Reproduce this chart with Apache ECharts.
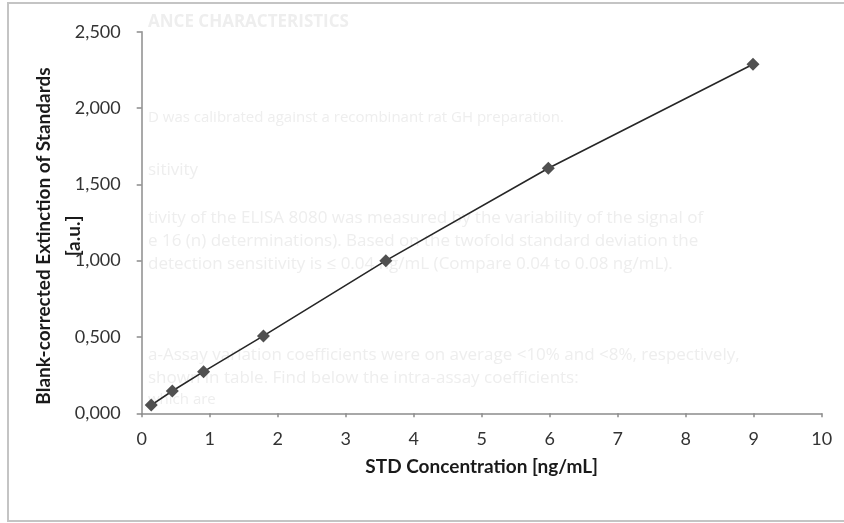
<!DOCTYPE html>
<html>
<head>
<meta charset="utf-8">
<script src="https://cdn.jsdelivr.net/npm/echarts@6/dist/echarts.min.js"></script>
<style>
html,body{margin:0;padding:0;background:#fff;}
#c{width:844px;height:523px;}
</style>
</head>
<body>
<div id="c"></div>
<script>
var concentrations = [0.14, 0.45, 0.91, 1.79, 3.59, 5.98, 8.99];
var extinctions = [0.054, 0.146, 0.273, 0.507, 1.0, 1.605, 2.287];
var xTicks = [0, 1, 2, 3, 4, 5, 6, 7, 8, 9, 10];
var yTicks = ['0,000', '0,500', '1,000', '1,500', '2,000', '2,500'];
var xTitle = 'STD Concentration [ng/mL]';
var yTitle = 'Blank-corrected Extinction of Standards';
var yUnit = '[a.u.]';
var bgLines = [
  'ANCE CHARACTERISTICS',
  'D was calibrated against a recombinant rat GH preparation.',
  'sitivity',
  'tivity of the ELISA 8080 was measured by the variability of the signal of',
  'e 16 (n) determinations). Based on the twofold standard deviation the',
  'detection sensitivity is \u2264 0.04 ng/mL (Compare 0.04 to 0.08 ng/mL).',
  'a-Assay variation coefficients were on average <10% and <8%, respectively,',
  'shown in table. Find below the intra-assay coefficients:',
  'which are'
];
var bgY = [22, 118, 170, 218, 241, 264, 355, 378, 400];
var bgSize = [17, 15, 17, 17, 17, 17, 17, 17, 15];

var chart = echarts.init(document.getElementById('c'), null, {renderer: 'canvas'});
var data = concentrations.map(function (x, i) { return [x, extinctions[i]]; });
var graphics = [];
bgLines.forEach(function (t, i) {
  graphics.push({
    type: 'text', x: 148, y: bgY[i], z: -10, silent: true,
    style: {text: t, fill: '#eeeeee', font: (i === 0 ? 'bold ' : '') + bgSize[i] + 'px "Open Sans"', verticalAlign: 'middle'}
  });
});
graphics.push({
  type: 'rect', z: -5, silent: true,
  shape: {x: 8, y: 3, width: 850, height: 518},
  style: {fill: 'none', stroke: '#c4c4c4', lineWidth: 2}
});
graphics.push({
  type: 'text', x: 44, y: 236, rotation: Math.PI / 2, silent: true,
  style: {text: yTitle, fill: '#1a1a1a', font: 'bold 19px Lato', align: 'center', verticalAlign: 'middle'}
});
graphics.push({
  type: 'text', x: 74, y: 236, rotation: Math.PI / 2, silent: true,
  style: {text: yUnit, fill: '#1a1a1a', font: 'bold 19px Lato', align: 'center', verticalAlign: 'middle'}
});

chart.setOption({
  animation: false,
  backgroundColor: '#fff',
  graphic: graphics,
  grid: {left: 141.7, right: 22.3, top: 31.7, bottom: 109.7, containLabel: false},
  xAxis: {
    type: 'value', min: 0, max: 10, interval: 1,
    name: xTitle, nameLocation: 'middle', nameGap: 44,
    nameTextStyle: {fontFamily: 'Lato', fontWeight: 'bold', fontSize: 19, color: '#1a1a1a'},
    axisLine: {show: true, lineStyle: {color: '#8c8c8c', width: 1.5}},
    axisTick: {show: true, inside: false, length: 4, lineStyle: {color: '#8c8c8c', width: 1.5}},
    axisLabel: {margin: 17, fontFamily: 'Lato', fontSize: 18, color: '#333333',
      formatter: function (v) { return xTicks.indexOf(v) >= 0 ? String(v) : ''; }},
    splitLine: {show: false}
  },
  yAxis: {
    type: 'value', min: 0, max: 2.5, interval: 0.5,
    axisLine: {show: true, lineStyle: {color: '#8c8c8c', width: 1.5}},
    axisTick: {show: true, inside: false, length: 5, lineStyle: {color: '#8c8c8c', width: 1.5}},
    axisLabel: {margin: 21, fontFamily: 'Lato', fontSize: 18, color: '#333333',
      formatter: function (v) { var i = Math.round(v / 0.5); return yTicks[i] || ''; }},
    splitLine: {show: false}
  },
  series: [{
    type: 'line',
    data: data,
    symbol: 'diamond',
    symbolSize: 13,
    showSymbol: true,
    itemStyle: {color: '#505050'},
    lineStyle: {color: '#262626', width: 1.6}
  }]
});
</script>
</body>
</html>
